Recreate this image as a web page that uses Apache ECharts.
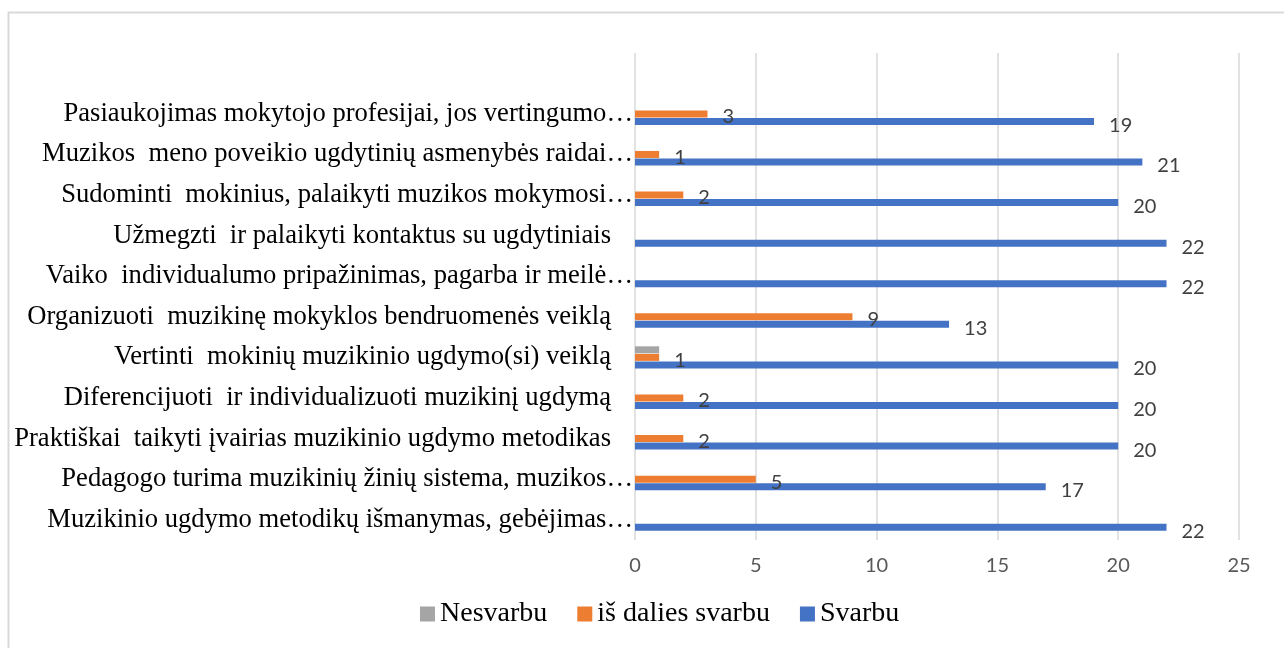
<!DOCTYPE html>
<html>
<head>
<meta charset="utf-8">
<title>Svarbu</title>
<script src="https://cdn.jsdelivr.net/npm/echarts@6/dist/echarts.min.js"></script>
<style>
	html, body { margin: 0; padding: 0; background: #fff; }
	#chart { width: 1284px; height: 648px; }
</style>
</head>
<body>
<div id="chart"></div>
<script>
// kategorijos, iš viršaus į apačią (pirma tuščia eilutė kaip Excel'yje)
var categories = [
	'',
	'Pasiaukojimas mokytojo profesijai, jos vertingumo…',
	'Muzikos  meno poveikio ugdytinių asmenybės raidai…',
	'Sudominti  mokinius, palaikyti muzikos mokymosi…',
	'Užmegzti  ir palaikyti kontaktus su ugdytiniais',
	'Vaiko  individualumo pripažinimas, pagarba ir meilė…',
	'Organizuoti  muzikinę mokyklos bendruomenės veiklą',
	'Vertinti  mokinių muzikinio ugdymo(si) veiklą',
	'Diferencijuoti  ir individualizuoti muzikinį ugdymą',
	'Praktiškai  taikyti įvairias muzikinio ugdymo metodikas',
	'Pedagogo turima muzikinių žinių sistema, muzikos…',
	'Muzikinio ugdymo metodikų išmanymas, gebėjimas…'
];
var nesvarbu = [null, null, null, null, null, null, null, 1, null, null, null, null];
var isDaliesSvarbu = [null, 3, 1, 2, null, null, 9, 1, 2, 2, 5, null];
var svarbu = [null, 19, 21, 20, 22, 22, 13, 20, 20, 20, 17, 22];
var xTicks = [0, 5, 10, 15, 20, 25];

var chart = echarts.init(document.getElementById('chart'));

var valLabel = {
	show: true,
	position: 'right',
	distance: 15,
	color: '#404040',
	fontFamily: 'Lato',
	fontSize: 20
};

var option = {
	backgroundColor: '#fff',
	animation: false,
	color: ['#A5A5A5', '#ED7D31', '#4472C4'],
	graphic: [{
		type: 'rect',
		shape: { x: 8.5, y: 12.5, width: 1300, height: 660 },
		style: { fill: 'none', stroke: '#D9D9D9', lineWidth: 2 },
		silent: true
	}],
	grid: {
		left: 635,
		right: 45,
		top: 53,
		bottom: 108
	},
	legend: {
		bottom: 15,
		left: 415,
		icon: 'rect',
		itemWidth: 15,
		itemHeight: 15,
		itemGap: 30,
		textStyle: {
			fontFamily: 'Liberation Serif',
			fontSize: 28,
			color: '#000'
		},
		data: ['Nesvarbu', 'iš dalies svarbu', 'Svarbu']
	},
	xAxis: {
		type: 'value',
		min: xTicks[0],
		max: xTicks[xTicks.length - 1],
		interval: 5,
		axisLine: { show: false },
		axisTick: { show: false },
		splitLine: {
			show: true,
			lineStyle: { color: '#D9D9D9', width: 1.5 }
		},
		axisLabel: {
			margin: 16,
			color: '#595959',
			fontFamily: 'Lato',
			fontSize: 20
		}
	},
	yAxis: {
		type: 'category',
		inverse: true,
		data: categories,
		axisLine: { show: false },
		axisTick: { show: false },
		splitLine: { show: false },
		axisLabel: {
			margin: 2,
			formatter: function(v) {
				if (v.slice(-1) === '…') return '{e|' + v + '}';
				return '{n|' + v + '}';
			},
			rich: {
				e: { fontFamily: 'Liberation Serif', fontSize: 26.6, color: '#000' },
				n: { fontFamily: 'Liberation Serif', fontSize: 26.6, color: '#000', padding: [0, 22, 0, 0] }
			}
		}
	},
	series: [{
			name: 'Nesvarbu',
			type: 'bar',
			barWidth: 7,
			barGap: '8%',
			data: nesvarbu,
			label: { show: false }
		},
		{
			name: 'iš dalies svarbu',
			type: 'bar',
			barWidth: 7,
			barGap: '8%',
			data: isDaliesSvarbu,
			label: Object.assign({}, valLabel, { offset: [0, 3] })
		},
		{
			name: 'Svarbu',
			type: 'bar',
			barWidth: 7,
			barGap: '8%',
			data: svarbu,
			label: Object.assign({}, valLabel, { offset: [0, 4] })
		}
	]
};
chart.setOption(option);
</script>
</body>
</html>
